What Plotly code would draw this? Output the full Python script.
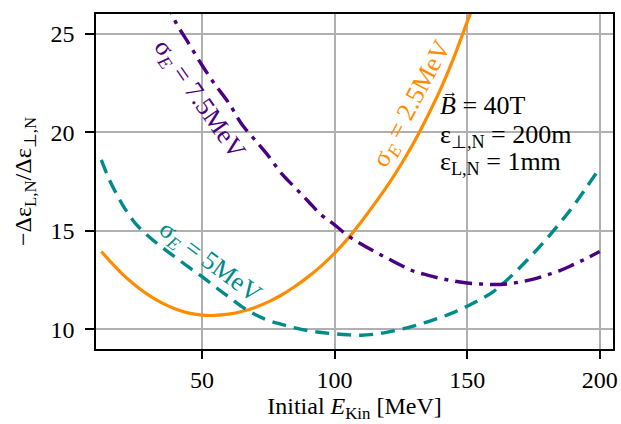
import plotly.graph_objects as go

# ---- data ----
x_orange = [12, 15, 20, 25, 30, 35, 40, 45, 50, 53, 55, 60, 65, 70, 75, 80, 85, 90, 95,
            100, 105, 110, 115, 120, 125, 130, 135, 140, 145, 150, 152]
y_orange = [13.95, 13.5, 12.8, 12.21, 11.72, 11.33, 11.03, 10.82, 10.72, 10.7, 10.71, 10.77,
            10.9, 11.11, 11.39, 11.74, 12.17, 12.66, 13.22, 13.86, 14.6, 15.45, 16.35,
            17.3, 18.35, 19.5, 20.8, 22.2, 23.8, 25.6, 26.3]

x_teal = [12, 15, 18, 21, 25, 30, 35, 40, 45, 50, 55, 60, 65, 70, 75, 80, 85, 90, 95,
          100, 105, 110, 115, 120, 125, 130, 135, 140, 145, 150, 155, 160, 165, 170,
          175, 180, 185, 190, 195, 200]
y_teal = [18.6, 17.6, 16.8, 16.1, 15.35, 14.7, 14.15, 13.65, 13.15, 12.67, 12.15, 11.65,
          11.15, 10.75, 10.45, 10.25, 10.07, 9.93, 9.84, 9.77, 9.72, 9.7, 9.75, 9.86, 10.0,
          10.17, 10.38, 10.6, 10.86, 11.17, 11.52, 11.93, 12.5, 13.15, 13.85, 14.6, 15.4,
          16.25, 17.2, 18.18]

x_purple = [36, 40, 45, 50, 55, 60, 65, 70, 75, 80, 85, 90, 95, 100, 105, 110, 115, 120,
            125, 130, 135, 140, 145, 150, 155, 160, 165, 170, 175, 180, 185, 190, 195, 200]
y_purple = [26.8, 25.6, 24.5, 23.4, 22.4, 21.5, 20.4, 19.6, 18.8, 17.9, 17.2, 16.5, 15.8,
            15.3, 14.75, 14.33, 13.95, 13.6, 13.25, 12.94, 12.75, 12.58, 12.45, 12.35, 12.3,
            12.27, 12.3, 12.4, 12.55, 12.75, 12.98, 13.28, 13.6, 13.95]

x_ticks = [50, 100, 150, 200]
y_ticks = [10, 15, 20, 25]

ORANGE = "#ff8c00"
TEAL = "#008b8b"
PURPLE = "#4b0082"
FONT = "Liberation Serif"

fig = go.Figure()
fig.add_trace(go.Scatter(x=x_orange, y=y_orange, mode="lines",
                         line=dict(color=ORANGE, width=3.2, shape="spline")))
fig.add_trace(go.Scatter(x=x_teal, y=y_teal, mode="lines",
                         line=dict(color=TEAL, width=3.4, dash="14px,8px", shape="spline")))
fig.add_trace(go.Scatter(x=x_purple, y=y_purple, mode="lines",
                         line=dict(color=PURPLE, width=3.4, dash="17px,7px,4px,7px", shape="spline")))

ann = [
    dict(x=0.199, y=0.743, text="σ<sub><i>E</i></sub> = 7.5MeV", textangle=55, font=dict(color=PURPLE, size=26)),
    dict(x=0.612, y=0.731, text="σ<sub><i>E</i></sub> = 2.5MeV", textangle=-62, font=dict(color=ORANGE, size=26)),
    dict(x=0.219, y=0.26, text="σ<sub><i>E</i></sub> = 5MeV", textangle=36.5, font=dict(color=TEAL, size=26)),
]
annotations = []
for a in ann:
    annotations.append(dict(xref="paper", yref="paper", showarrow=False, xanchor="center",
                            yanchor="middle", font=dict(family=FONT, **a.pop("font")), **a))

info_lines = ["<i>B</i> = 40T", "ε<sub>⊥,N</sub> = 200m", "ε<sub>L,N</sub> = 1mm"]
info_y = [0.728, 0.637, 0.556]
for txt, yy in zip(info_lines, info_y):
    annotations.append(dict(xref="paper", yref="paper", x=0.662, y=yy, xanchor="left", yanchor="middle",
                            showarrow=False, text=txt, font=dict(family=FONT, size=26, color="black")))
annotations.append(dict(xref="paper", yref="paper", x=0.684, y=0.768, xanchor="center", yanchor="middle",
                        showarrow=False, text="→", font=dict(family=FONT, size=16, color="black")))

axis_common = dict(showline=True, linecolor="black", linewidth=1.6, mirror=True, ticks="outside",
                   tickwidth=1.6, tickcolor="black", showgrid=True, gridcolor="#b0b0b0",
                   gridwidth=1.5, zeroline=False, automargin=False,
                   tickfont=dict(family=FONT, size=24, color="black"))

fig.update_layout(
    width=621, height=424, margin=dict(l=96, r=8, t=14, b=75),
    paper_bgcolor="white", plot_bgcolor="white", showlegend=False,
    font=dict(family=FONT, color="black"),
    annotations=annotations,
    xaxis=dict(range=[10, 205], tickvals=x_ticks, ticklen=8, **axis_common,
               title=dict(text="Initial <i>E</i><sub>Kin</sub> [MeV]", font=dict(family=FONT, size=24), standoff=4)),
    yaxis=dict(range=[9, 26], tickvals=y_ticks, ticklen=9, ticklabelstandoff=6, **axis_common,
               title=dict(text="−Δε<sub>L,N</sub>/Δε<sub>⊥,N</sub>", font=dict(family=FONT, size=24), standoff=12)),
)
fig.write_html("out.html", config={"displayModeBar": False},
               post_script="document.body.style.margin='0';")
